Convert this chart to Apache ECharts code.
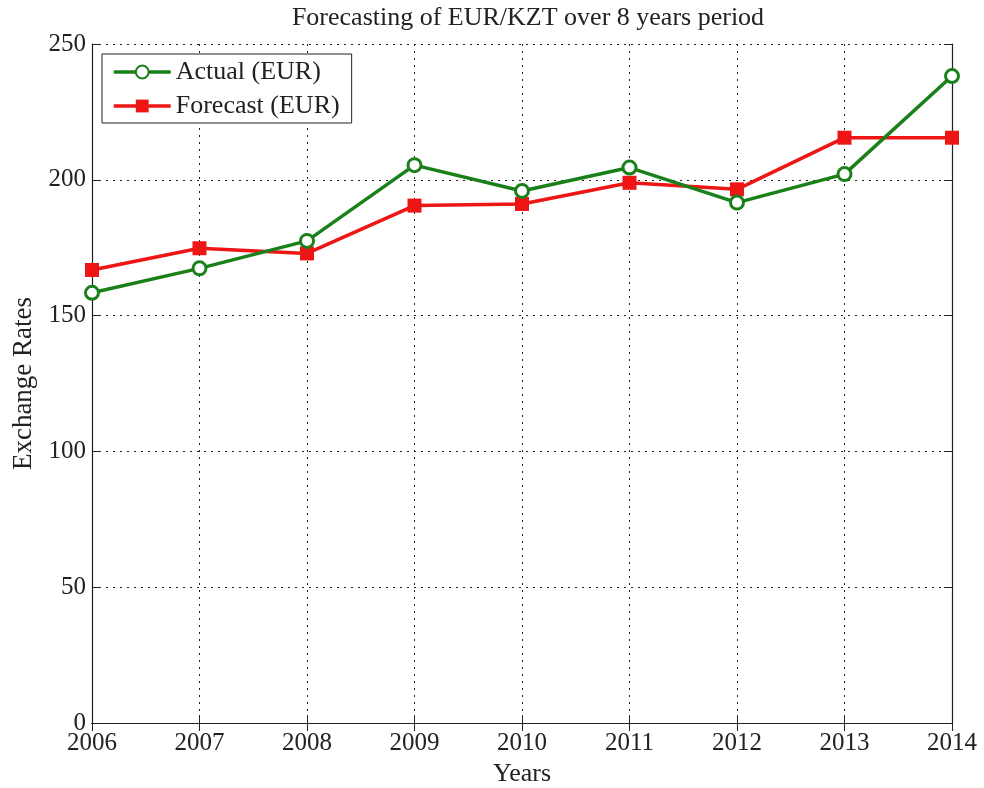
<!DOCTYPE html>
<html><head><meta charset="utf-8">
<script src="https://cdn.jsdelivr.net/npm/echarts@6/dist/echarts.min.js"></script>
<style>html,body{margin:0;padding:0;background:#fff}#c{width:984px;height:788px}</style>
</head><body><div id="c"></div>
<script>
const years = ['2006','2007','2008','2009','2010','2011','2012','2013','2014'];
const actual = [158.4, 167.4, 177.5, 205.4, 195.9, 204.5, 191.6, 202.1, 238.2];
const forecast = [166.8, 174.8, 172.9, 190.5, 191.1, 198.9, 196.5, 215.5, 215.5];
const yTicks = [0, 50, 100, 150, 200, 250];

const font = 'Liberation Serif';
const chart = echarts.init(document.getElementById('c'));
const grid = {left: 92, right: 32, top: 44, bottom: 65, outerBoundsMode: 'none', containLabel: false};
chart.setOption({
  backgroundColor: '#fff',
  animation: false,
  textStyle: {fontFamily: font},
  title: {
    text: 'Forecasting of EUR/KZT over 8 years period',
    left: 523, top: 0, textAlign: 'center',
    textStyle: {fontFamily: font, fontSize: 26, fontWeight: 'normal', color: '#222'}
  },
  legend: {
    orient: 'vertical', left: 102, top: 54,
    backgroundColor: '#fff', borderColor: '#222', borderWidth: 1,
    padding: [5, 12, 4, 10], itemGap: 8, itemWidth: 57, itemHeight: 16,
    lineStyle: {width: 3.5},
    textStyle: {fontFamily: font, fontSize: 26, color: '#222'},
    data: ['Actual (EUR)', 'Forecast (EUR)']
  },
  grid: grid,
  xAxis: [{
    type: 'category', data: years, boundaryGap: false,
    name: 'Years', nameLocation: 'middle', nameGap: 36,
    nameTextStyle: {fontFamily: font, fontSize: 26, color: '#222'},
    axisLine: {lineStyle: {color: '#222', width: 1.2}},
    axisTick: {inside: true, length: 8, lineStyle: {color: '#222'}},
    axisLabel: {fontFamily: font, fontSize: 25, color: '#222', margin: 8},
    splitLine: {show: true, lineStyle: {color: '#222', type: [2, 5], width: 1}}
  }, {
    type: 'category', data: years, boundaryGap: false, position: 'top',
    axisLine: {lineStyle: {color: '#222', width: 1.2}},
    axisTick: {inside: true, length: 8, lineStyle: {color: '#222'}},
    axisLabel: {show: false}, splitLine: {show: false}
  }],
  yAxis: [{
    type: 'value', min: 0, max: 250, interval: 50,
    name: 'Exchange Rates', nameLocation: 'middle', nameGap: 55,
    nameTextStyle: {fontFamily: font, fontSize: 27, color: '#222'},
    axisLine: {show: true, lineStyle: {color: '#222', width: 1.2}},
    axisTick: {show: true, inside: true, length: 8, lineStyle: {color: '#222'}},
    axisLabel: {fontFamily: font, fontSize: 25, color: '#222', margin: 6,
      formatter: v => yTicks.includes(v) ? String(v) : ''},
    splitLine: {show: true, lineStyle: {color: '#222', type: [2, 5], width: 1}}
  }, {
    type: 'value', min: 0, max: 250, interval: 50, position: 'right',
    axisLine: {show: true, lineStyle: {color: '#222', width: 1.2}},
    axisTick: {show: true, inside: true, length: 8, lineStyle: {color: '#222'}},
    axisLabel: {show: false}, splitLine: {show: false}
  }],
  series: [{
    name: 'Actual (EUR)', type: 'line', data: actual,
    symbol: 'circle', symbolSize: 13, z: 3,
    lineStyle: {color: '#1a801a', width: 3.5},
    itemStyle: {color: '#fff', borderColor: '#1a801a', borderWidth: 3}
  }, {
    name: 'Forecast (EUR)', type: 'line', data: forecast,
    symbol: 'rect', symbolSize: 14, z: 2,
    lineStyle: {color: '#ee1515', width: 3.5},
    itemStyle: {color: '#ee1515'}
  }]
});
</script></body></html>
